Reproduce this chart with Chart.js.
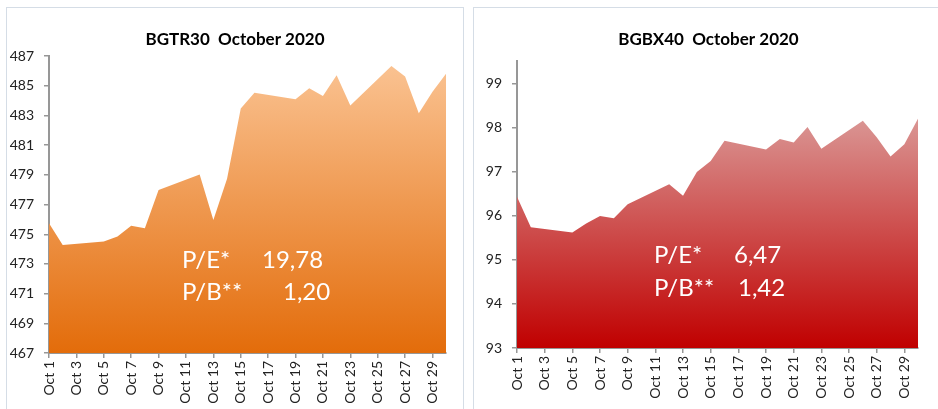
<!DOCTYPE html>
<html>
<head>
<meta charset="utf-8">
<script src="https://cdn.jsdelivr.net/npm/chart.js@4/dist/chart.umd.min.js"></script>
<style>
  html, body { margin: 0; padding: 0; background: #fff; width: 938px; height: 409px; overflow: hidden; }
  .box { position: absolute; border: 1px solid #d5dde6; background: #fff; }
  .wrap { position: absolute; top: 0; }
  canvas { display: block; }
</style>
</head>
<body>
<div class="box" style="left:6px; top:7px; width:456px; height:420px;"></div>
<div class="box" style="left:473px; top:7px; width:480px; height:420px;"></div>
<div class="wrap" style="left:0px;"><canvas id="c1" width="466" height="409"></canvas></div>
<div class="wrap" style="left:466px;"><canvas id="c2" width="472" height="409"></canvas></div>
<script>
// ---- data ----
const days = ['Oct 1','Oct 2','Oct 3','Oct 4','Oct 5','Oct 6','Oct 7','Oct 8','Oct 9','Oct 10',
  'Oct 11','Oct 12','Oct 13','Oct 14','Oct 15','Oct 16','Oct 17','Oct 18','Oct 19','Oct 20',
  'Oct 21','Oct 22','Oct 23','Oct 24','Oct 25','Oct 26','Oct 27','Oct 28','Oct 29','Oct 30'];
// weekends have no trading values (null, line spans the gap)
const bgtr30 = [475.75, 474.27, null, null, 474.51, 474.85, 475.57, 475.41, 477.99, null,
  null, 479.02, 475.97, 478.75, 483.48, 484.53, null, null, 484.10, 484.84,
  484.32, 485.72, 483.67, null, null, 486.34, 485.63, 483.15, 484.60, 485.84];
const bgbx40 = [96.43, 95.74, null, null, 95.62, 95.82, 95.99, 95.94, 96.26, null,
  null, 96.71, 96.45, 96.99, 97.24, 97.70, null, null, 97.50, 97.74,
  97.66, 98.01, 97.52, null, null, 98.15, 97.78, 97.34, 97.62, 98.21];
const title1 = 'BGTR30  October 2020';
const title2 = 'BGBX40  October 2020';
const ticks1 = { min: 467, max: 487, step: 2 };
const ticks2 = { min: 93, max: 99.5, step: 1 };
const notes1 = [['P/E*', '19,78'], ['P/B**', '1,20']];
const notes2 = [['P/E*', '6,47'], ['P/B**', '1,42']];

// ---- styling / layout ----
const FONT = "Lato, 'Open Sans', sans-serif";
const AXIS = '#979797';

function gradientFill(top, bottom) {
  return function (ctx) {
    const chart = ctx.chart;
    const area = chart.chartArea;
    if (!area) return bottom;
    const y = chart.scales.y;
    const vals = ctx.dataset.data.filter(v => v !== null);
    const yTop = y.getPixelForValue(Math.max.apply(null, vals));
    const g = chart.ctx.createLinearGradient(0, yTop, 0, area.bottom);
    g.addColorStop(0, top);
    g.addColorStop(1, bottom);
    return g;
  };
}

const notePlugin = {
  id: 'notes',
  afterLayout(chart, args, opts) {
    // shift the title block so it is centred like the original
    const tb = chart.titleBlock;
    if (tb && opts.titleShift) { tb.left += opts.titleShift; tb.right += opts.titleShift; }
  },
  afterDatasetsDraw(chart, args, opts) {
    const c = chart.ctx;
    c.save();
    c.fillStyle = '#ffffff';
    c.font = '24px ' + FONT;
    c.textBaseline = 'alphabetic';
    c.textAlign = 'left';
    opts.lines.forEach((ln, i) => {
      c.fillText(ln[0], opts.x1, opts.y[i]);
      c.fillText(ln[1], opts.x2[i], opts.y[i]);
    });
    c.restore();
  }
};

function makeChart(id, cfg) {
  return new Chart(document.getElementById(id), {
    type: 'line',
    data: {
      labels: days,
      datasets: [{
        data: cfg.values,
        fill: 'start',
        spanGaps: true,
        tension: 0,
        borderWidth: 0,
        borderColor: 'rgba(0,0,0,0)',
        pointRadius: 0,
        backgroundColor: gradientFill(cfg.top, cfg.bottom)
      }]
    },
    options: {
      responsive: false,
      devicePixelRatio: 1,
      animation: false,
      layout: { padding: { left: 0, right: cfg.padR, top: 0, bottom: 0 } },
      plugins: {
        legend: { display: false },
        tooltip: { enabled: false },
        title: {
          display: true,
          text: cfg.title,
          color: '#000',
          font: { family: FONT, size: 17, weight: 'bold' },
          padding: { top: 29.5, bottom: cfg.titleBottom }
        },
        notes: cfg.notes
      },
      scales: {
        x: {
          offset: false,
          afterFit: s => { s.height = cfg.xHeight; },
          border: { color: AXIS, width: 2 },
          grid: {
            drawOnChartArea: false,
            drawTicks: true,
            tickLength: 5,
            lineWidth: 1.5,
            color: c => (c.index % 2 === 0 ? AXIS : 'rgba(0,0,0,0)')
          },
          ticks: {
            autoSkip: false,
            maxRotation: 90,
            minRotation: 90,
            padding: 3,
            color: '#222',
            font: { family: FONT, size: 14 },
            callback: (v, i) => (i % 2 === 0 ? days[i] : '')
          }
        },
        y: {
          min: cfg.ticks.min,
          max: cfg.ticks.max,
          afterFit: s => { s.width = cfg.yWidth; },
          border: { color: AXIS, width: 2 },
          grid: {
            drawOnChartArea: false,
            drawTicks: true,
            tickLength: 5,
            lineWidth: 1.5,
            color: AXIS
          },
          ticks: {
            stepSize: cfg.ticks.step,
            includeBounds: false,
            padding: 10,
            color: '#222',
            font: { family: FONT, size: 14 }
          }
        }
      }
    },
    plugins: [notePlugin]
  });
}

makeChart('c1', {
  values: bgtr30, title: title1, ticks: ticks1,
  top: '#fac291', bottom: '#e36c0a',
  padR: 19, titleBottom: 6.3, xHeight: 56, yWidth: 49,
  notes: { lines: notes1, x1: 182, x2: [262, 283], y: [268, 300], titleShift: 11.5 }
});
makeChart('c2', {
  values: bgbx40, title: title2, ticks: ticks2,
  top: '#da9694', bottom: '#c00000',
  padR: 10, titleBottom: 11.4, xHeight: 61, yWidth: 51,
  notes: { lines: notes2, x1: 188, x2: [268, 272], y: [263, 296], titleShift: 11.5 }
});
</script>
</body>
</html>
